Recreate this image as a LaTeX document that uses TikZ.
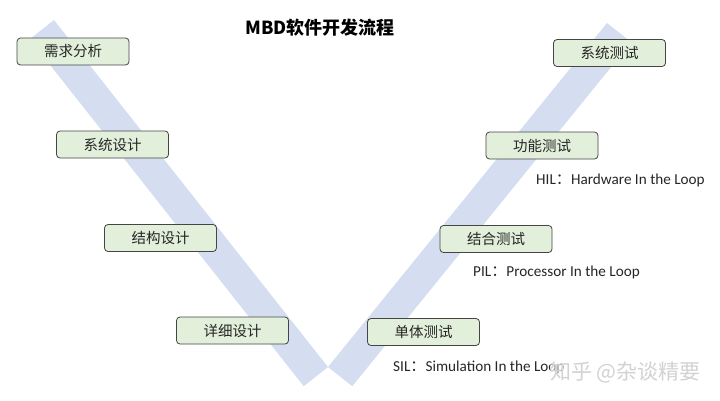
\documentclass[tikz,border=0pt]{standalone}
\usepackage{fontspec}
\setmainfont{Carlito}
\newfontfamily\cjk{Noto Sans CJK SC}
\usetikzlibrary{positioning}
\definecolor{vBand}{HTML}{D5DEF1}
\definecolor{boxGreen}{HTML}{E2EFDA}
\definecolor{boxLine}{HTML}{454545}
\definecolor{txtGray}{HTML}{262626}

\begin{document}
\begin{tikzpicture}[x=1pt, y=-1pt,
  stage/.style={draw=boxLine, line width=0.8pt, fill=boxGreen, rounded corners=3.5pt,
    minimum width=112pt, minimum height=27pt, inner sep=0pt,
    font=\cjk\fontsize{14.5}{16}\selectfont, text=txtGray},
  loopnote/.style={anchor=west, inner sep=0pt, font=\fontsize{15.2}{17}\selectfont, text=txtGray}]
\useasboundingbox (0,0) rectangle (720,400);
% the V band
\fill[vBand] (54,20) -- (328,367) -- (303.7,386.2) -- (29.7,39.2) -- cycle;
\fill[vBand] (607,23) -- (631.3,42.2) -- (352.3,386.2) -- (328,367) -- cycle;
% title
\node[font=\cjk\bfseries\fontsize{18}{20}\selectfont, text=black] (title) at (320,28) {MBD软件开发流程};
% design side
\node[stage] (need)   at (73,51.5)    {需求分析};
\node[stage] (sysdes) at (112.5,144.5) {系统设计};
\node[stage] (arch)   at (160.5,238)  {结构设计};
\node[stage] (detail) at (232.5,330.5) {详细设计};
% test side
\node[stage] (systest) at (609.5,53)   {系统测试};
\node[stage] (func)    at (542,145.5)  {功能测试};
\node[stage] (integ)   at (496,239)    {结合测试};
\node[stage] (unit)    at (423.5,332)  {单体测试};
% loop notes
\node[loopnote] (hil) at (536,180) {HIL{\cjk ：}Hardware In the Loop};
\node[loopnote] (pil) at (473,272) {PIL{\cjk ：}Processor In the Loop};
\node[loopnote] (sil) at (393,367) {SIL{\cjk ：}Simulation In the Loop};
% watermark
\node[anchor=west, inner sep=0pt, font=\cjk\fontsize{21}{23}\selectfont, text=white!65!gray, fill=white, fill opacity=0.5, text opacity=1] (mark) at (550,372) {知乎 @杂谈精要};
\end{tikzpicture}
\end{document}
